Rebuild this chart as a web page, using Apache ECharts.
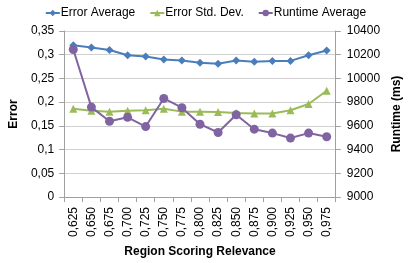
<!DOCTYPE html>
<html><head><meta charset="utf-8">
<script src="https://cdn.jsdelivr.net/npm/echarts@6/dist/echarts.min.js"></script>
<style>html,body{margin:0;padding:0;background:#fff}#c{width:411px;height:263px}</style>
</head><body><div id="c"></div>
<script>
const categories = ['0,625','0,650','0,675','0,700','0,725','0,750','0,775','0,800','0,825','0,850','0,875','0,900','0,925','0,950','0,975'];
const errorAverage = [0.320,0.315,0.310,0.299,0.296,0.290,0.288,0.283,0.281,0.288,0.285,0.287,0.287,0.299,0.309];
const errorStdDev = [0.186,0.182,0.180,0.182,0.183,0.186,0.180,0.180,0.179,0.177,0.176,0.176,0.183,0.196,0.224];
const runtimeAverage = [10244,9758,9639,9672,9594,9831,9753,9614,9544,9694,9572,9539,9497,9539,9508];

const font = 'Liberation Sans, Arial, sans-serif';
const chart = echarts.init(document.getElementById('c'), null, {renderer:'canvas'});
chart.setOption({
  animation: false,
  textStyle: {fontFamily: font},
  legend: {
    top: 2, left: 'center', itemGap: 14, itemWidth: 14, itemHeight: 8,
    textStyle: {fontSize: 12, color: '#000', fontFamily: font, padding: [0,0,0,-4]},
    data: ['Error Average','Error Std. Dev.','Runtime Average']
  },
  grid: {left: 61, right: 70, top: 31, bottom: 65},
  xAxis: {
    type: 'category', data: categories, boundaryGap: true,
    name: 'Region Scoring Relevance', nameLocation: 'middle', nameGap: 49,
    nameTextStyle: {fontWeight: 'bold', fontSize: 12, color: '#000', fontFamily: font},
    axisLine: {lineStyle: {color: '#a0a0a0'}},
    axisTick: {show: true, alignWithLabel: false, length: 5, lineStyle: {color: '#a0a0a0'}},
    axisLabel: {rotate: 90, fontSize: 12, color: '#000', interval: 0, margin: 10, fontFamily: font}
  },
  yAxis: [{
    type: 'value', min: 0, max: 0.35, interval: 0.05,
    name: 'Error', nameLocation: 'middle', nameGap: 41, nameRotate: 90,
    nameTextStyle: {fontWeight: 'bold', fontSize: 12, color: '#000', fontFamily: font},
    axisLine: {show: true, lineStyle: {color: '#a0a0a0'}},
    axisTick: {show: true, length: 5, lineStyle: {color: '#a0a0a0'}},
    axisLabel: {fontSize: 12, color: '#000', margin: 10, fontFamily: font,
      formatter: v => String(Math.round(v*100)/100).replace('.', ',')},
    splitLine: {lineStyle: {color: '#d0d0d0'}}
  },{
    type: 'value', min: 9000, max: 10400, interval: 200,
    name: 'Runtime (ms)', nameLocation: 'middle', nameGap: 54, nameRotate: 90,
    nameTextStyle: {fontWeight: 'bold', fontSize: 12, color: '#000', fontFamily: font},
    axisLine: {show: true, lineStyle: {color: '#a0a0a0'}},
    axisTick: {show: true, length: 5, lineStyle: {color: '#a0a0a0'}},
    axisLabel: {fontSize: 12, color: '#000', margin: 11, fontFamily: font,
      formatter: v => String(v)},
    splitLine: {show: false}
  }],
  series: [{
    name: 'Error Average', type: 'line', data: errorAverage, yAxisIndex: 0,
    symbol: 'diamond', symbolSize: 8,
    lineStyle: {color: '#4A7EBB', width: 2}, itemStyle: {color: '#4A7EBB'}
  },{
    name: 'Error Std. Dev.', type: 'line', data: errorStdDev, yAxisIndex: 0,
    symbol: 'triangle', symbolSize: 8,
    lineStyle: {color: '#9BBB59', width: 2}, itemStyle: {color: '#9BBB59'}
  },{
    name: 'Runtime Average', type: 'line', data: runtimeAverage, yAxisIndex: 1,
    symbol: 'circle', symbolSize: 9,
    lineStyle: {color: '#8064A2', width: 2}, itemStyle: {color: '#8064A2'}
  }]
});
</script></body></html>
